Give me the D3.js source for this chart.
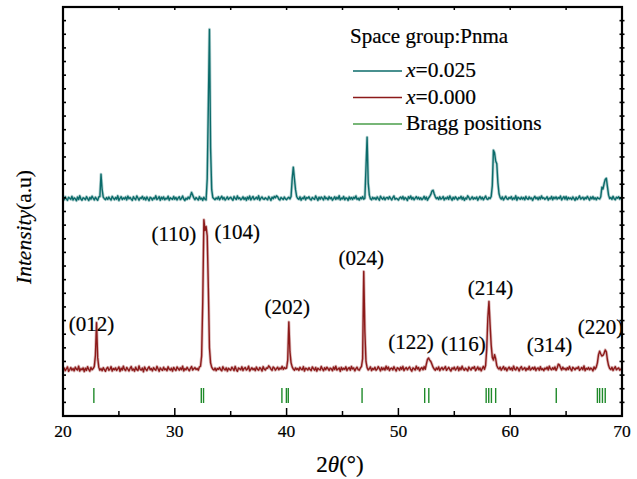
<!DOCTYPE html>
<html>
<head>
<meta charset="utf-8">
<script src="https://cdn.jsdelivr.net/npm/d3@7"></script>
<style>
  body { margin: 0; background: #fff; }
  svg { display: block; }
  text { font-family: "Liberation Serif", "Times New Roman", Times, serif; fill: #000; stroke: #000; stroke-width: 0.2; }
</style>
</head>
<body>
<svg id="chart" width="637" height="479" font-family="Liberation Serif, Times New Roman, serif"></svg>
<script>
// XRD patterns, counts sampled every 0.1 deg from 20 to 70 (one row per degree)
const thetaStart = 20, thetaStep = 0.1;

const countsX000 = [
  98,112,93,105,120,88,101,115,96,108,
  91,118,104,97,126,90,107,99,113,86,
  110,95,121,102,89,116,100,108,124,205,
  445,190,118,96,107,92,114,101,88,109,
  117,95,103,122,90,108,99,113,94,106,
  120,88,111,97,125,101,93,116,104,90,
  109,123,96,105,89,118,100,94,127,102,
  97,112,85,119,104,93,110,121,99,108,
  91,115,103,96,124,107,88,113,101,95,
  118,99,106,92,121,104,97,111,89,116,
  103,94,120,108,96,113,100,125,91,107,
  99,117,104,92,110,123,97,106,115,101,
  108,96,119,125,200,600,1200,1120,1150,1080,
  700,260,150,118,104,97,112,93,108,102,
  115,100,92,121,105,97,113,89,110,102,
  96,118,107,93,124,101,88,112,106,99,
  121,94,109,116,97,105,125,91,103,114,
  100,108,93,119,102,96,115,107,90,122,
  104,97,113,110,128,118,103,95,120,112,
  96,107,118,99,112,105,124,102,115,108,
  112,170,450,230,150,120,104,96,113,101,
  108,95,117,103,99,122,90,111,106,98,
  114,101,93,120,107,96,116,89,110,103,
  97,123,105,92,114,100,118,108,94,111,
  106,92,119,101,125,97,104,113,88,117,
  99,110,102,121,94,108,115,96,123,105,
  113,91,107,118,100,96,112,124,180,820,
  380,160,115,98,106,120,93,109,101,117,
  95,104,122,108,91,116,100,113,97,125,
  103,119,94,107,112,98,121,105,90,114,
  109,96,118,102,124,93,107,115,99,111,
  120,101,89,113,106,97,125,104,116,92,
  108,115,99,122,103,140,175,185,170,160,
  140,118,104,96,113,101,120,93,107,116,
  99,110,123,95,106,117,101,90,112,104,
  118,97,108,121,93,114,100,125,105,96,
  111,103,92,119,107,98,116,109,122,94,
  105,120,99,113,91,108,124,102,130,250,
  480,600,430,280,190,170,210,180,130,112,
  104,118,96,109,123,100,114,92,107,119,
  101,113,95,126,104,98,117,108,91,112,
  122,99,106,115,93,110,101,124,97,105,
  116,102,119,94,108,113,96,121,100,107,
  93,111,104,118,97,125,106,99,114,102,
  120,95,112,140,135,115,98,118,104,109,
  97,114,101,123,106,92,117,109,99,113,
  108,121,95,104,116,100,127,93,110,103,
  115,99,112,106,91,120,104,118,150,210,
  235,215,200,205,220,245,230,170,130,108,
  101,117,94,110,122,99,106,113,96,104,
  108
];

const countsX025 = [
  105,96,118,101,92,114,107,99,121,94,
  110,103,89,116,98,125,102,93,111,106,
  97,119,104,91,113,100,122,108,95,115,
  102,93,117,120,283,170,115,104,97,112,
  99,116,103,94,121,108,97,113,100,125,
  91,107,119,98,110,102,116,95,123,104,
  113,100,92,118,105,97,124,109,93,111,
  106,121,99,112,95,117,103,90,114,108,
  94,110,103,125,98,106,119,92,115,101,
  117,96,108,102,122,93,111,104,99,120,
  100,113,95,109,118,97,106,123,102,91,
  108,99,116,104,125,150,130,110,97,112,
  103,95,119,101,108,92,114,100,95,250,
  790,1346,480,170,112,104,97,110,101,118,
  96,109,122,100,113,94,105,117,99,108,
  115,102,93,120,107,98,124,103,111,96,
  104,118,99,111,92,116,101,123,95,109,
  120,97,106,114,100,125,93,108,117,102,
  99,111,103,96,119,107,92,115,104,121,
  110,125,118,101,94,113,106,98,116,103,
  97,108,115,102,120,250,335,250,170,120,
  105,99,117,93,110,104,121,96,112,107,
  118,101,94,113,106,99,124,108,92,115,
  100,116,107,95,121,103,110,97,119,104,
  112,93,105,118,99,114,102,126,96,109,
  103,120,96,110,107,92,117,101,113,98,
  115,106,124,99,108,94,112,103,119,100,
  107,330,555,220,130,104,96,114,102,111,
  98,117,104,93,122,108,100,115,96,110,
  113,101,119,106,95,111,124,99,107,102,
  94,109,116,103,120,97,112,105,91,118,
  106,123,100,113,96,108,119,102,114,99,
  111,97,105,121,100,116,93,109,120,135,
  160,166,140,118,104,112,98,118,101,107,
  120,95,110,103,117,99,124,106,93,114,
  101,118,107,96,112,105,121,99,115,92,
  109,102,125,113,97,106,118,100,111,104,
  116,93,108,120,101,114,96,110,123,103,
  98,112,105,120,200,460,440,380,360,220,
  140,112,101,117,95,108,122,104,99,113,
  106,119,97,110,102,125,93,114,108,100,
  115,101,112,96,120,105,99,117,103,110,
  92,108,121,104,113,97,116,101,124,106,
  111,99,107,118,94,109,103,120,96,115,
  104,117,100,112,106,123,95,108,119,101,
  120,96,113,103,110,98,117,105,92,114,
  99,110,124,101,108,115,97,112,104,121,
  107,94,116,103,119,100,111,96,113,106,
  102,118,188,175,215,245,254,190,130,105,
  112,99,121,104,96,115,108,118,101,110,
  104
];

// vertical stacking of the two patterns
const offsetX000 = 240, offsetX025 = 1490;

const braggPositions = [22.76, 32.37, 32.57, 39.58, 39.98, 40.15, 46.75, 52.35, 52.72,
  57.85, 58.08, 58.32, 58.7, 64.12, 67.8, 68.0, 68.25, 68.5];

const hklLabels = ["(012)", "(110)", "(104)", "(202)", "(024)", "(122)", "(116)", "(214)", "(314)", "(220)"];
const hklTheta  = [22.55, 29.91, 35.58, 40.05, 46.68, 51.13, 55.81, 58.23, 63.51, 68.08];
const hklCounts = [623, 1283, 1297, 748, 1107, 491, 476, 887, 469, 601];

const xTicks = [20, 30, 40, 50, 60, 70];
const legendTitle = "Space group:Pnma";

const teal = "#0b6b6a", red = "#8c1a1a", green = "#1f8a2a", greenLegend = "#4a9e4a";

const margin = {left: 63, right: 15, top: 7, bottom: 63};
const W = 637, H = 479;
const svg = d3.select("#chart");

const x = d3.scaleLinear().domain([20, 70]).range([margin.left, W - margin.right]);
const y = d3.scaleLinear().domain([0, 3000]).range([H - margin.bottom, margin.top]);

svg.append("defs").append("clipPath").attr("id", "clip")
  .append("rect")
  .attr("x", x(20)).attr("y", y(3000))
  .attr("width", x(70) - x(20)).attr("height", y(0) - y(3000));

function pattern(counts, offset) {
  return counts.map((c, i) => [thetaStart + i * thetaStep, c + offset]);
}

const line = d3.line().x(d => x(d[0])).y(d => y(d[1]));

const plot = svg.append("g").attr("clip-path", "url(#clip)");

[[countsX025, offsetX025, teal], [countsX000, offsetX000, red]].forEach(([c, off, col]) => {
  const d = line(pattern(c, off));
  // soft halo, like the blurred original
  plot.append("path").attr("d", d)
    .attr("fill", "none").attr("stroke", col).attr("stroke-opacity", 0.3)
    .attr("stroke-width", 3).attr("stroke-linejoin", "round");
  plot.append("path").attr("d", d)
    .attr("fill", "none").attr("stroke", col).attr("stroke-width", 1.4)
    .attr("stroke-linejoin", "round");
});

// Bragg markers
plot.selectAll(".bragg")
  .data(braggPositions)
  .join("line")
  .attr("x1", d => x(d)).attr("x2", d => x(d))
  .attr("y1", 388).attr("y2", 403)
  .attr("stroke", green).attr("stroke-width", 1.4);

// hkl labels
svg.selectAll(".hkl")
  .data(hklLabels)
  .join("text")
  .attr("x", (d, i) => x(hklTheta[i]))
  .attr("y", (d, i) => y(hklCounts[i]))
  .attr("text-anchor", "middle")
  .attr("font-size", 21)
  .text(d => d);

// axes ticks (inward)
svg.selectAll(".xtick")
  .data(d3.range(20, 71, 5))
  .join("line")
  .attr("x1", d => x(d)).attr("x2", d => x(d))
  .attr("y1", y(0)).attr("y2", d => y(0) - (d % 10 === 0 ? 8 : 5))
  .attr("stroke", "#000").attr("stroke-width", 1.5);

svg.selectAll(".xtickTop")
  .data(d3.range(25, 70, 5))
  .join("line")
  .attr("x1", d => x(d)).attr("x2", d => x(d))
  .attr("y1", y(3000)).attr("y2", y(3000) + 3)
  .attr("stroke", "#000").attr("stroke-width", 1.5);

svg.selectAll(".xlabel")
  .data(xTicks)
  .join("text")
  .attr("x", d => x(d))
  .attr("y", 437)
  .attr("text-anchor", "middle")
  .attr("font-size", 17.5)
  .text(d => d);

const yTickVals = d3.range(100, 3000, 100);
svg.selectAll(".ytickL")
  .data(yTickVals)
  .join("line")
  .attr("x1", x(20)).attr("x2", x(20) + 3)
  .attr("y1", d => y(d)).attr("y2", d => y(d))
  .attr("stroke", "#000").attr("stroke-width", 1.6);

svg.selectAll(".ytickR")
  .data(yTickVals)
  .join("line")
  .attr("x1", x(70) - 2.5).attr("x2", x(70) + 2.5)
  .attr("y1", d => y(d)).attr("y2", d => y(d))
  .attr("stroke", "#000").attr("stroke-width", 1.6);

// frame
svg.append("rect")
  .attr("x", x(20)).attr("y", y(3000))
  .attr("width", x(70) - x(20)).attr("height", y(0) - y(3000))
  .attr("fill", "none").attr("stroke", "#000").attr("stroke-width", 2.2);

// axis titles
const xt = svg.append("text")
  .attr("x", 340).attr("y", 472)
  .attr("text-anchor", "middle").attr("font-size", 23);
xt.append("tspan").text("2");
xt.append("tspan").attr("font-style", "italic").text("θ");
xt.append("tspan").text("(°)");

const yt = svg.append("text")
  .attr("transform", "translate(31,227) rotate(-90)")
  .attr("text-anchor", "middle").attr("font-size", 21.5);
yt.append("tspan").attr("font-style", "italic").text("Intensity");
yt.append("tspan").text("(a.u)");

// legend
svg.append("text")
  .attr("x", 350).attr("y", 43)
  .attr("font-size", 21)
  .text(legendTitle);

const legendItems = [
  {label: ["x", "=0.025"], color: teal},
  {label: ["x", "=0.000"], color: red},
  {label: ["", "Bragg positions"], color: greenLegend}
];
legendItems.forEach((item, i) => {
  const yy = 77 + i * 26.5;
  svg.append("line")
    .attr("x1", 353).attr("x2", 402)
    .attr("y1", yy - 6).attr("y2", yy - 6)
    .attr("stroke", item.color).attr("stroke-width", 1.6);
  const t = svg.append("text").attr("x", 406).attr("y", yy).attr("font-size", 21.5);
  if (item.label[0]) t.append("tspan").attr("font-style", "italic").text(item.label[0]);
  t.append("tspan").text(item.label[1]);
});
</script>
</body>
</html>
